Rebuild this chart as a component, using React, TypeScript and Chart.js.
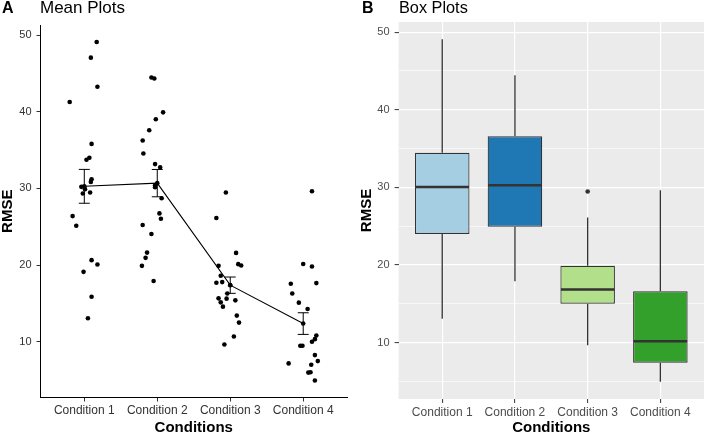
import React, { useEffect, useRef } from "react";
import { Chart, registerables } from "chart.js";

Chart.register(...registerables);

const FONT = "'Liberation Sans', Arial, Helvetica, sans-serif";

// Categories and axis ticks
const conditions = ["Condition 1", "Condition 2", "Condition 3", "Condition 4"];
const yMajorTicks = [10, 20, 30, 40, 50];
const yMinorTicks = [5, 15, 25, 35, 45];

// Per-participant RMSE for each condition, with the horizontal jitter used in the dot plot
const rmseCond1 = [49.1, 47.05, 43.25, 41.27, 35.8, 34.0, 33.74, 31.19, 30.85, 30.2, 29.9, 29.46, 29.33, 26.39, 25.13, 20.64, 20.07, 19.12, 15.88, 13.06];
const jitterCond1 = [0.17, 0.09, 0.18, -0.2, 0.1, 0.07, 0.03, 0.1, 0.09, -0.04, 0.01, 0.08, -0.02, -0.16, -0.11, 0.1, 0.18, -0.01, 0.1, 0.05];

const rmseCond2 = [44.46, 44.33, 39.92, 39.01, 37.59, 36.25, 34.56, 33.17, 32.74, 30.41, 30.15, 28.72, 26.74, 26.04, 25.22, 24.05, 21.63, 20.94, 19.9, 17.92];
const jitterCond2 = [-0.08, -0.04, 0.08, -0.02, -0.11, -0.2, -0.19, -0.03, 0.04, -0.03, -0.03, 0.06, 0.03, 0.05, -0.2, -0.08, -0.14, -0.16, -0.21, -0.05];

const rmseCond3 = [29.46, 26.13, 21.59, 20.12, 19.94, 19.9, 18.6, 17.78, 17.7, 17.4, 16.3, 15.66, 15.62, 15.4, 15.14, 14.58, 13.41, 12.5, 10.69, 9.65];
const jitterCond3 = [-0.06, -0.19, 0.08, 0.11, 0.15, -0.16, -0.13, -0.11, -0.19, 0.0, -0.04, -0.16, -0.05, 0.07, -0.13, -0.1, 0.09, 0.12, 0.05, -0.08];

const rmseCond4 = [29.63, 20.14, 19.81, 17.65, 17.56, 16.3, 15.1, 14.28, 10.82, 10.34, 10.0, 9.48, 9.48, 8.26, 7.48, 7.18, 7.0, 6.02, 5.98, 4.94];
const jitterCond4 = [0.12, 0.0, 0.12, 0.18, -0.17, -0.15, -0.06, 0.06, 0.18, 0.16, 0.12, -0.04, -0.01, 0.16, 0.2, -0.2, 0.11, 0.1, 0.07, 0.16];

const boxColors = ["#a6cee3", "#1f78b4", "#b2df8a", "#33a02c"];

const groups = [rmseCond1, rmseCond2, rmseCond3, rmseCond4];
const jitters = [jitterCond1, jitterCond2, jitterCond3, jitterCond4];

// ---- summary statistics ----
function quantile(sorted: number[], p: number) {
  const h = (sorted.length - 1) * p;
  const lo = Math.floor(h);
  const hi = Math.ceil(h);
  return sorted[lo] + (h - lo) * (sorted[hi] - sorted[lo]);
}

function boxSummary(values: number[]) {
  const s = [...values].sort((a, b) => a - b);
  const q1 = quantile(s, 0.25);
  const med = quantile(s, 0.5);
  const q3 = quantile(s, 0.75);
  const iqr = q3 - q1;
  const lo = q1 - 1.5 * iqr;
  const hi = q3 + 1.5 * iqr;
  const inside = s.filter((v) => v >= lo && v <= hi);
  return {
    q1,
    med,
    q3,
    low: inside[0],
    high: inside[inside.length - 1],
    outliers: s.filter((v) => v < lo || v > hi),
  };
}

function meanSe(values: number[]) {
  const n = values.length;
  const mean = values.reduce((a, b) => a + b, 0) / n;
  const sd = Math.sqrt(values.reduce((a, b) => a + (b - mean) ** 2, 0) / (n - 1));
  return { mean, se: sd / Math.sqrt(n) };
}

const boxes = groups.map(boxSummary);
const means = groups.map(meanSe);

const allValues = groups.flat();
const dataMin = Math.min(...allValues);
const dataMax = Math.max(...allValues);
const pad = (dataMax - dataMin) * 0.05;
const yMin = dataMin - pad;
const yMax = dataMax + pad;

const CAP_HALF = 0.075;

// ---- left panel: jittered dots with mean ± SE ----
const errorBarPlugin = {
  id: "errorBars",
  afterDatasetsDraw(chart: any) {
    const { ctx, scales } = chart;
    const x = scales.x;
    const y = scales.y;
    ctx.save();
    ctx.strokeStyle = "#000";
    ctx.lineWidth = 1;
    means.forEach((m, i) => {
      const cx = x.getPixelForValue(i + 1);
      const l = x.getPixelForValue(i + 1 - CAP_HALF);
      const r = x.getPixelForValue(i + 1 + CAP_HALF);
      const top = y.getPixelForValue(m.mean + m.se);
      const bot = y.getPixelForValue(m.mean - m.se);
      ctx.beginPath();
      ctx.moveTo(cx, top);
      ctx.lineTo(cx, bot);
      ctx.moveTo(l, top);
      ctx.lineTo(r, top);
      ctx.moveTo(l, bot);
      ctx.lineTo(r, bot);
      ctx.stroke();
    });
    ctx.restore();
  },
};

function leftConfig(): any {
  const points = groups.flatMap((vals, gi) =>
    vals.map((v, j) => ({ x: gi + 1 + jitters[gi][j], y: v }))
  );
  const meanLine = means.map((m, i) => ({ x: i + 1, y: m.mean }));
  return {
    type: "scatter",
    data: {
      datasets: [
        {
          type: "line",
          data: meanLine,
          showLine: true,
          borderColor: "#000",
          borderWidth: 1.1,
          pointRadius: 2.3,
          pointBackgroundColor: "#000",
          pointBorderWidth: 0,
          tension: 0,
        },
        {
          data: points,
          pointRadius: 2.3,
          pointBackgroundColor: "#000",
          pointBorderWidth: 0,
        },
      ],
    },
    options: {
      responsive: false,
      animation: false,
      devicePixelRatio: 1,
      events: [],
      layout: { padding: { top: 25, right: 7, left: 0, bottom: 0 } },
      plugins: { legend: { display: false }, tooltip: { enabled: false } },
      scales: {
        x: {
          type: "linear",
          min: 0.4,
          max: 4.6,
          afterBuildTicks: (s: any) => {
            s.ticks = conditions.map((_, i) => ({ value: i + 1 }));
          },
          afterFit: (s: any) => {
            s.height = 36.5;
          },
          ticks: {
            callback: (v: number) => conditions[Math.round(v) - 1],
            font: { family: FONT, size: 12 },
            color: "#333",
            padding: 2,
            maxRotation: 0,
            autoSkip: false,
          },
          grid: { drawOnChartArea: false, tickLength: 4, tickColor: "#333", tickWidth: 1 },
          border: { color: "#000", width: 1 },
          title: {
            display: true,
            text: "Conditions",
            color: "#000",
            font: { family: FONT, size: 15, weight: "bold", lineHeight: 1 },
            padding: { top: 0, bottom: -1 },
          },
        },
        y: {
          type: "linear",
          min: yMin,
          max: yMax,
          afterBuildTicks: (s: any) => {
            s.ticks = yMajorTicks.map((v) => ({ value: v }));
          },
          afterFit: (s: any) => {
            s.width = 40.5;
          },
          ticks: {
            font: { family: FONT, size: 11 },
            color: "#333",
            padding: 5,
          },
          grid: { drawOnChartArea: false, tickLength: 4, tickColor: "#333", tickWidth: 1 },
          border: { color: "#000", width: 1 },
          title: {
            display: true,
            text: "RMSE",
            color: "#000",
            font: { family: FONT, size: 15, weight: "bold", lineHeight: 1 },
            padding: { top: 0.5, bottom: 0 },
          },
        },
      },
    },
    plugins: [errorBarPlugin],
  };
}

// ---- right panel: box plots ----
const boxPartsPlugin = {
  id: "boxParts",
  beforeDraw(chart: any) {
    const { ctx, chartArea } = chart;
    ctx.save();
    ctx.fillStyle = "#ebebeb";
    ctx.fillRect(chartArea.left, chartArea.top, chartArea.right - chartArea.left, chartArea.bottom - chartArea.top);
    ctx.restore();
  },
  beforeDatasetsDraw(chart: any) {
    const { ctx, scales } = chart;
    const x = scales.x;
    const y = scales.y;
    ctx.save();
    ctx.strokeStyle = "#333";
    ctx.lineWidth = 1.3;
    boxes.forEach((b, i) => {
      const cx = x.getPixelForValue(i + 1);
      ctx.beginPath();
      ctx.moveTo(cx, y.getPixelForValue(b.q3));
      ctx.lineTo(cx, y.getPixelForValue(b.high));
      ctx.moveTo(cx, y.getPixelForValue(b.q1));
      ctx.lineTo(cx, y.getPixelForValue(b.low));
      ctx.stroke();
    });
    ctx.restore();
  },
  afterDatasetsDraw(chart: any) {
    const { ctx, scales } = chart;
    const y = scales.y;
    const meta = chart.getDatasetMeta(0);
    ctx.save();
    ctx.strokeStyle = "#333";
    ctx.lineWidth = 2.6;
    boxes.forEach((b, i) => {
      const bar = meta.data[i];
      const half = bar.width / 2;
      const py = y.getPixelForValue(b.med);
      ctx.beginPath();
      ctx.moveTo(bar.x - half + 0.5, py);
      ctx.lineTo(bar.x + half - 0.5, py);
      ctx.stroke();
    });
    ctx.restore();
  },
};

function rightConfig(): any {
  const outliers = boxes.flatMap((b, i) => b.outliers.map((v) => ({ x: i + 1, y: v })));
  return {
    type: "bar",
    data: {
      datasets: [
        {
          data: boxes.map((b, i) => ({ x: i + 1, y: [b.q1, b.q3] })),
          backgroundColor: boxColors,
          borderColor: "#333",
          borderWidth: 1.2,
          borderSkipped: false,
          barPercentage: 0.75,
          categoryPercentage: 1,
        },
        {
          type: "scatter",
          data: outliers,
          pointRadius: 2.3,
          pointBackgroundColor: "#333",
          pointBorderWidth: 0,
        },
      ],
    },
    options: {
      responsive: false,
      animation: false,
      devicePixelRatio: 1,
      events: [],
      layout: { padding: { top: 22, right: 0.6, left: 0, bottom: 0 } },
      plugins: { legend: { display: false }, tooltip: { enabled: false } },
      scales: {
        x: {
          type: "linear",
          min: 0.4,
          max: 4.6,
          offset: false,
          afterBuildTicks: (s: any) => {
            s.ticks = conditions.map((_, i) => ({ value: i + 1 }));
          },
          afterFit: (s: any) => {
            s.height = 35;
          },
          ticks: {
            callback: (v: number) => conditions[Math.round(v) - 1],
            font: { family: FONT, size: 12 },
            color: "#4d4d4d",
            padding: 2,
            maxRotation: 0,
            autoSkip: false,
          },
          grid: {
            offset: false,
            color: "#ffffff",
            lineWidth: 1.2,
            tickLength: 4,
            tickColor: "#333",
            tickWidth: 1,
          },
          border: { display: false },
          title: {
            display: true,
            text: "Conditions",
            color: "#000",
            font: { family: FONT, size: 15, weight: "bold", lineHeight: 1 },
            padding: { top: 0, bottom: -1 },
          },
        },
        y: {
          type: "linear",
          min: yMin,
          max: yMax,
          afterBuildTicks: (s: any) => {
            s.ticks = [...yMinorTicks, ...yMajorTicks].sort((a, b) => a - b).map((v) => ({ value: v }));
          },
          afterFit: (s: any) => {
            s.width = 44.6;
          },
          ticks: {
            callback: (v: number) => (yMajorTicks.includes(v) ? String(v) : ""),
            font: { family: FONT, size: 11 },
            color: "#4d4d4d",
            padding: 5,
          },
          grid: {
            color: "#ffffff",
            lineWidth: (c: any) => (yMajorTicks.includes(c.tick?.value) ? 1.2 : 0.6),
            tickLength: 4,
            tickColor: (c: any) => (yMajorTicks.includes(c.tick?.value) ? "#333" : "rgba(0,0,0,0)"),
            tickWidth: 1,
          },
          border: { display: false },
          title: {
            display: true,
            text: "RMSE",
            color: "#000",
            font: { family: FONT, size: 15, weight: "bold", lineHeight: 1 },
            padding: { top: 5.5, bottom: 0 },
          },
        },
      },
    },
    plugins: [boxPartsPlugin],
  };
}

export default function App() {
  const leftRef = useRef<HTMLCanvasElement>(null);
  const rightRef = useRef<HTMLCanvasElement>(null);

  useEffect(() => {
    const left = new Chart(leftRef.current!, leftConfig());
    const right = new Chart(rightRef.current!, rightConfig());
    return () => {
      left.destroy();
      right.destroy();
    };
  }, []);

  const label = (left: number, top: number, size: number, bold: boolean, text: string) => (
    <div
      style={{
        position: "absolute",
        left,
        top,
        fontFamily: FONT,
        fontSize: size,
        lineHeight: `${size}px`,
        fontWeight: bold ? "bold" : "normal",
        color: "#000",
        whiteSpace: "nowrap",
      }}
    >
      {text}
    </div>
  );

  return (
    <div style={{ position: "absolute", left: 0, top: 0, width: 708, height: 434, background: "#fff", overflow: "hidden" }}>
      <canvas ref={leftRef} width={354} height={434} style={{ position: "absolute", left: 0, top: 0, width: 354, height: 434 }} />
      <canvas ref={rightRef} width={354} height={434} style={{ position: "absolute", left: 354, top: 0, width: 354, height: 434 }} />
      {label(2, 0, 16, true, "A")}
      {label(40, -1, 17, false, "Mean Plots")}
      {label(362, 0, 16, true, "B")}
      {label(399, -1, 16.3, false, "Box Plots")}
    </div>
  );
}
